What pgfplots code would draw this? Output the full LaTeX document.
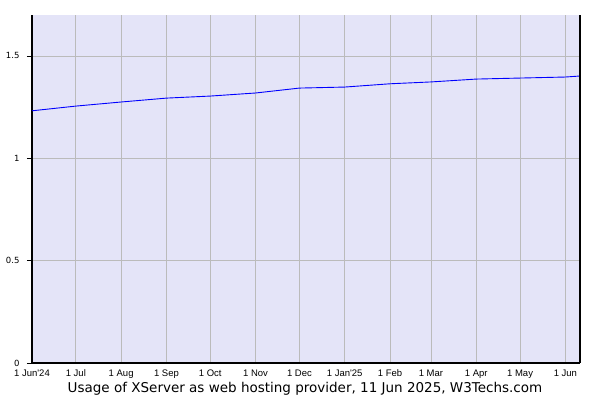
\documentclass[border=0pt]{standalone}
\usepackage{pgfplots}
\pgfplotsset{compat=1.18}
\usepackage{fontspec}
\setmainfont{DejaVu Sans}
\newfontfamily\tickfont{Liberation Sans}

\definecolor{plotbg}{RGB}{228,228,248}
\definecolor{gridgray}{RGB}{187,187,187}

% days counted from 1 Jun 2024
\pgfplotstableread{
day  share
0    1.232
30   1.255
61   1.275
92   1.294
122  1.304
153  1.319
183  1.343
214  1.348
245  1.364
273  1.373
304  1.387
334  1.392
365  1.397
375  1.402
}\xserver

\begin{document}
\begin{tikzpicture}
\path[use as bounding box] (0,0) rectangle (600pt,400pt);
\begin{axis}[
	at={(32pt,37pt)},
	anchor=south west,
	scale only axis,
	width=548pt,
	height=348pt,
	xmin=0, xmax=375,
	ymin=0, ymax=1.7,
	axis lines*=left,
	axis line style={black, line width=1.2pt},
	axis background/.style={fill=plotbg},
	xtick={0,30,61,92,122,153,183,214,245,273,304,334,365},
	xticklabels={1 Jun'24,1 Jul,1 Aug,1 Sep,1 Oct,1 Nov,1 Dec,1 Jan'25,1 Feb,1 Mar,1 Apr,1 May,1 Jun},
	ytick={0,0.5,1,1.5},
	yticklabels={0,0.5,1,1.5},
	grid=major,
	major grid style={gridgray, line width=0.8pt},
	tick align=outside,
	major tick length=5pt,
	major x tick style={draw=none},
	major y tick style={black, line width=0.8pt},
	xticklabel style={font=\tickfont\fontsize{9.5}{10}\selectfont, inner sep=0pt,
		anchor=north, text height=7pt, text depth=1pt, yshift=-1pt},
	yticklabel style={font=\fontsize{8.5}{10}\selectfont, xshift=-4pt},
	/pgf/number format/assume math mode=true,
	clip=false,
]
\addplot[blue, line width=0.9pt, mark=none] table[x=day, y=share] {\xserver};
\draw[black, line width=1.2pt] (rel axis cs:1,0) -- (rel axis cs:1,1);
\end{axis}
\node[anchor=base, font=\fontsize{13.5}{15}\selectfont] at (305pt,8pt)
	{Usage of XServer as web hosting provider, 11 Jun 2025, W3Techs.com};
\end{tikzpicture}
\end{document}
